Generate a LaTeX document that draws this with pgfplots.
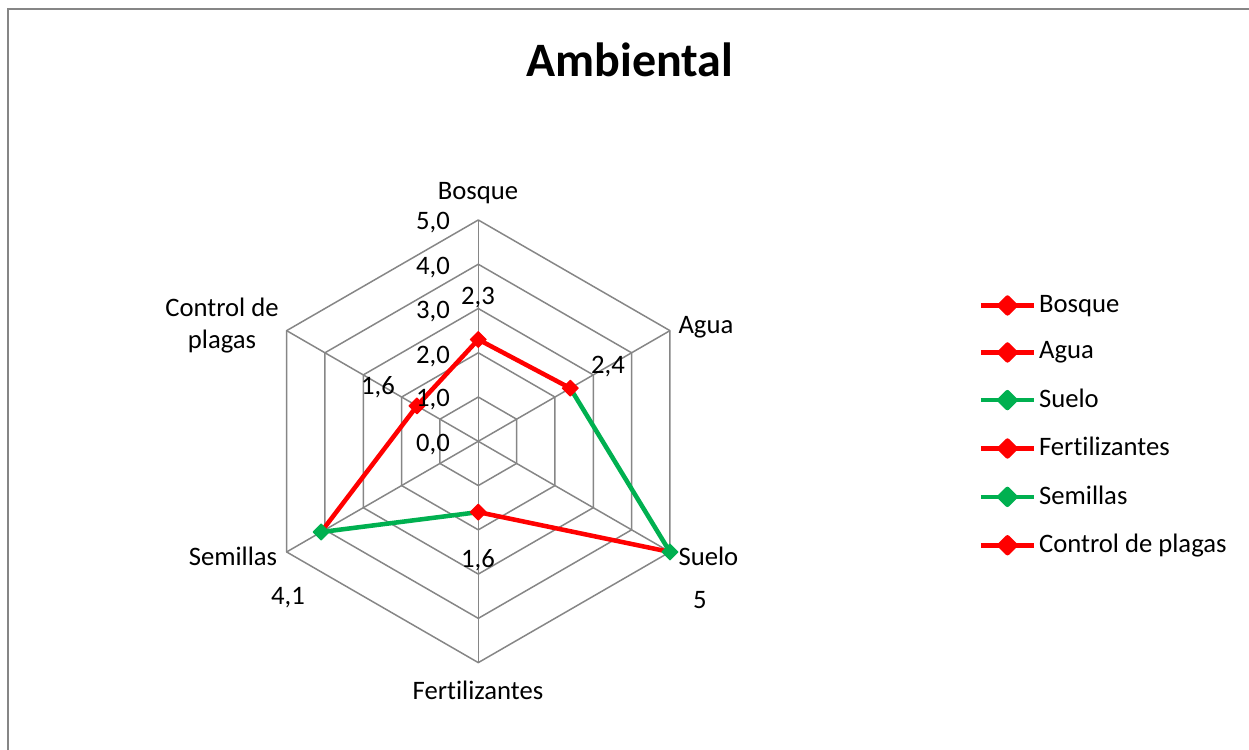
\documentclass[border=0pt]{standalone}
\usepackage{pgfplots}
\pgfplotsset{compat=1.18}
\usepgfplotslibrary{polar}
\usepackage{fontspec}
\setmainfont{Carlito}[Ligatures=NoCommon]
\definecolor{xred}{HTML}{FF0000}
\definecolor{xgreen}{HTML}{00B050}
\definecolor{xgrid}{HTML}{868686}
\begin{document}
\begin{tikzpicture}[x=0.375pt,y=0.375pt, font=\fontsize{10}{12}\selectfont]
\useasboundingbox (0,0) rectangle (1249,750);
\draw[xgrid, line width=0.75pt] (8,-5) -- (8,741) -- (1255,741);
\begin{polaraxis}[
  at={(179.36pt,115.76pt)}, anchor=center,
  scale only axis, width=165.98pt, height=165.98pt,
  ymin=0, ymax=5,
  hide axis, clip=false,
  legend style={at={(1.629,0.838)}, anchor=north west, draw=none, fill=none,
    font=\fontsize{10}{12}\selectfont, row sep=7.7pt, inner sep=0pt,
    nodes={inner sep=1pt}},
  legend cell align=left,
  legend image code/.code={\draw[#1, mark repeat=2, mark phase=2] plot coordinates {(0pt,0pt)(10pt,0pt)(20pt,0pt)};},
  every axis plot/.append style={line join=round},
]
% grid rings
\addplot[xgrid, line width=0.56pt, forget plot] coordinates {(90,1)(30,1)(-30,1)(-90,1)(-150,1)(150,1)(90,1)};
\addplot[xgrid, line width=0.56pt, forget plot] coordinates {(90,2)(30,2)(-30,2)(-90,2)(-150,2)(150,2)(90,2)};
\addplot[xgrid, line width=0.56pt, forget plot] coordinates {(90,3)(30,3)(-30,3)(-90,3)(-150,3)(150,3)(90,3)};
\addplot[xgrid, line width=0.56pt, forget plot] coordinates {(90,4)(30,4)(-30,4)(-90,4)(-150,4)(150,4)(90,4)};
\addplot[xgrid, line width=0.56pt, forget plot] coordinates {(90,5)(30,5)(-30,5)(-90,5)(-150,5)(150,5)(90,5)};
% spokes
\addplot[xgrid, line width=0.56pt, forget plot] coordinates {(90,0)(90,5)};
\addplot[xgrid, line width=0.56pt, forget plot] coordinates {(30,0)(30,5)};
\addplot[xgrid, line width=0.56pt, forget plot] coordinates {(-30,0)(-30,5)};
\addplot[xgrid, line width=0.56pt, forget plot] coordinates {(-90,0)(-90,5)};
\addplot[xgrid, line width=0.56pt, forget plot] coordinates {(-150,0)(-150,5)};
\addplot[xgrid, line width=0.56pt, forget plot] coordinates {(150,0)(150,5)};
% data segments
\addplot[xred, line width=1.7pt, forget plot] coordinates {(90,2.3)(30,2.4)};
\addplot[xgreen, line width=1.7pt, forget plot] coordinates {(30,2.4)(-30,5)};
\addplot[xred, line width=1.7pt, forget plot] coordinates {(-30,5)(-90,1.6)};
\addplot[xgreen, line width=1.7pt, forget plot] coordinates {(-90,1.6)(-150,4.1)};
\addplot[xred, line width=1.7pt, forget plot] coordinates {(-150,4.1)(150,1.6)(90,2.3)};
% markers
\addplot[only marks, mark=square*, mark size=2.1pt, mark options={rotate=45, draw=xred, fill=xred}, forget plot] coordinates {(90,2.3)(30,2.4)(-90,1.6)(150,1.6)};
\addplot[only marks, mark=square*, mark size=2.1pt, mark options={rotate=45, draw=xgreen, fill=xgreen}, forget plot] coordinates {(-30,5)(-150,4.1)};
% legend
\addlegendimage{xred, line width=1.7pt, mark=square*, mark size=2.1pt, mark options={rotate=45, fill=xred}}
\addlegendimage{xred, line width=1.7pt, mark=square*, mark size=2.1pt, mark options={rotate=45, fill=xred}}
\addlegendimage{xgreen, line width=1.7pt, mark=square*, mark size=2.1pt, mark options={rotate=45, fill=xgreen}}
\addlegendimage{xred, line width=1.7pt, mark=square*, mark size=2.1pt, mark options={rotate=45, fill=xred}}
\addlegendimage{xgreen, line width=1.7pt, mark=square*, mark size=2.1pt, mark options={rotate=45, fill=xgreen}}
\addlegendimage{xred, line width=1.7pt, mark=square*, mark size=2.1pt, mark options={rotate=45, fill=xred}}
\legend{Bosque, Agua, Suelo, Fertilizantes, Semillas, Control de plagas}
\end{polaraxis}
% title
\node at (630,690) {\fontsize{18}{22}\selectfont\bfseries Ambiental};
% category labels
\node at (478,557) {Bosque};
\node[anchor=west, inner sep=0pt] at (678,423) {Agua};
\node[anchor=west, inner sep=0pt] at (678,193.3) {Suelo};
\node at (478,60) {Fertilizantes};
\node[anchor=east, inner sep=0pt] at (277.7,193.3) {Semillas};
\node[align=center, inner sep=0pt] at (222,424) {Control de\\plagas};
% data labels
\node at (478,452) {2,3};
\node at (608,383) {2,4};
\node at (700,150) {5};
\node at (478,190) {1,6};
\node at (288,152) {4,1};
\node at (378,363) {1,6};
% tick labels
\node at (433,527) {5,0};
\node at (433,482) {4,0};
\node at (433,438) {3,0};
\node at (433,393) {2,0};
\node at (433,350) {1,0};
\node at (433,305) {0,0};
\end{tikzpicture}
\end{document}
